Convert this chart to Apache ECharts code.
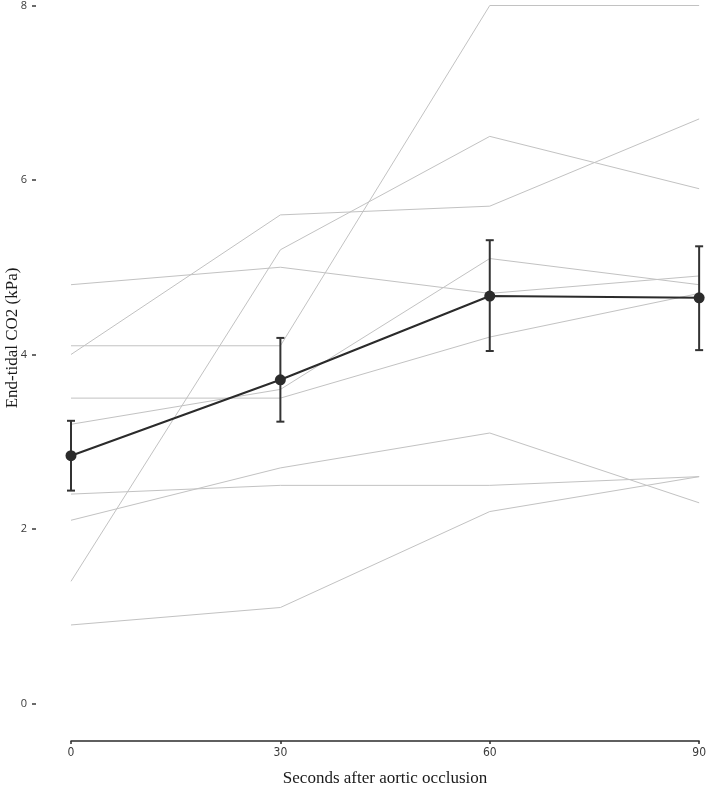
<!DOCTYPE html>
<html><head><meta charset="utf-8">
<script src="https://cdn.jsdelivr.net/npm/echarts@6/dist/echarts.min.js"></script>
<style>html,body{margin:0;padding:0;background:#fff}#c{width:709px;height:792px}</style>
</head><body><div id="c"></div>
<script>
// Time points (seconds after aortic occlusion)
const times = [0, 30, 60, 90];
// Individual subjects' end-tidal CO2 (kPa)
const subj1 = [4.0, 5.6, 5.7, 6.7];
const subj2 = [1.4, 5.2, 6.5, 5.9];
const subj3 = [4.1, 4.1, 8.0, 8.0];
const subj4 = [4.8, 5.0, 4.7, 4.9];
const subj5 = [3.5, 3.5, 4.2, 4.7];
const subj6 = [3.2, 3.6, 5.1, 4.8];
const subj7 = [2.1, 2.7, 3.1, 2.3];
const subj8 = [2.4, 2.5, 2.5, 2.6];
const subj9 = [0.9, 1.1, 2.2, 2.6];
const subjects = [subj1, subj2, subj3, subj4, subj5, subj6, subj7, subj8, subj9];
// Group mean and error bar limits
const meanVals = [2.84, 3.71, 4.67, 4.65];
const errLow = [2.44, 3.23, 4.04, 4.05];
const errHigh = [3.24, 4.19, 5.31, 5.24];
const yTickLabels = [0, 2, 4, 6, 8];
const xTickLabels = [0, 30, 60, 90];

const chart = echarts.init(document.getElementById('c'), null, {renderer: 'canvas'});
const series = [];
subjects.forEach((s, i) => {
  series.push({
    type: 'line', name: 'S' + (i + 1),
    data: times.map((t, j) => [t, s[j]]),
    symbol: 'none', silent: true,
    lineStyle: {color: '#c2c2c2', width: 1},
    z: 1
  });
});
series.push({
  type: 'custom', name: 'err',
  data: times.map((t, j) => [t, errLow[j], errHigh[j]]),
  renderItem: function (params, api) {
    const x = api.value(0);
    const lo = api.coord([x, api.value(1)]);
    const hi = api.coord([x, api.value(2)]);
    const hw = 4;
    const st = {stroke: '#333333', lineWidth: 2};
    return {type: 'group', children: [
      {type: 'line', shape: {x1: lo[0], y1: lo[1], x2: hi[0], y2: hi[1]}, style: st},
      {type: 'line', shape: {x1: lo[0] - hw, y1: lo[1], x2: lo[0] + hw, y2: lo[1]}, style: st},
      {type: 'line', shape: {x1: hi[0] - hw, y1: hi[1], x2: hi[0] + hw, y2: hi[1]}, style: st}
    ]};
  },
  z: 3
});
series.push({
  type: 'line', name: 'mean',
  data: times.map((t, j) => [t, meanVals[j]]),
  symbol: 'circle', symbolSize: 11,
  itemStyle: {color: '#2b2b2b'},
  lineStyle: {color: '#2b2b2b', width: 2},
  z: 4
});

chart.setOption({
  animation: false,
  backgroundColor: '#ffffff',
  grid: {left: 71, right: 8, top: 5, bottom: 39, containLabel: false},
  xAxis: {
    type: 'value', min: 0, max: 90, interval: 30,
    splitLine: {show: false},
    axisLine: {show: true, onZero: false, lineStyle: {color: '#2b2b2b', width: 1.5}},
    axisTick: {show: true, length: 3, lineStyle: {color: '#2b2b2b', width: 1.5}, customValues: xTickLabels},
    axisLabel: {color: '#3a3a3a', fontSize: 12, fontFamily: 'DejaVu Sans Condensed, DejaVu Sans', margin: 6, customValues: xTickLabels},
    name: 'Seconds after aortic occlusion', nameLocation: 'middle', nameGap: 29,
    nameTextStyle: {color: '#1a1a1a', fontSize: 17, fontFamily: 'Liberation Serif'}
  },
  yAxis: {
    type: 'value', min: -0.43, max: 8,
    offset: 35,
    splitLine: {show: false},
    axisLine: {show: true, onZero: false, lineStyle: {color: '#3a3a3a', width: 1.5, opacity: 0}},
    axisTick: {show: true, length: 4, lineStyle: {color: '#3a3a3a', width: 1.5}, customValues: yTickLabels},
    axisLabel: {color: '#3a3a3a', fontSize: 11, fontFamily: 'Open Sans', margin: 9, customValues: yTickLabels}
  },
  graphic: [{
    type: 'text', rotation: Math.PI / 2,
    style: {text: 'End-tidal CO2 (kPa)', fill: '#1a1a1a', font: '17px "Liberation Serif"', textAlign: 'center', textVerticalAlign: 'middle'},
    x: 13, y: 338
  }],
  series: series
});
</script></body></html>
